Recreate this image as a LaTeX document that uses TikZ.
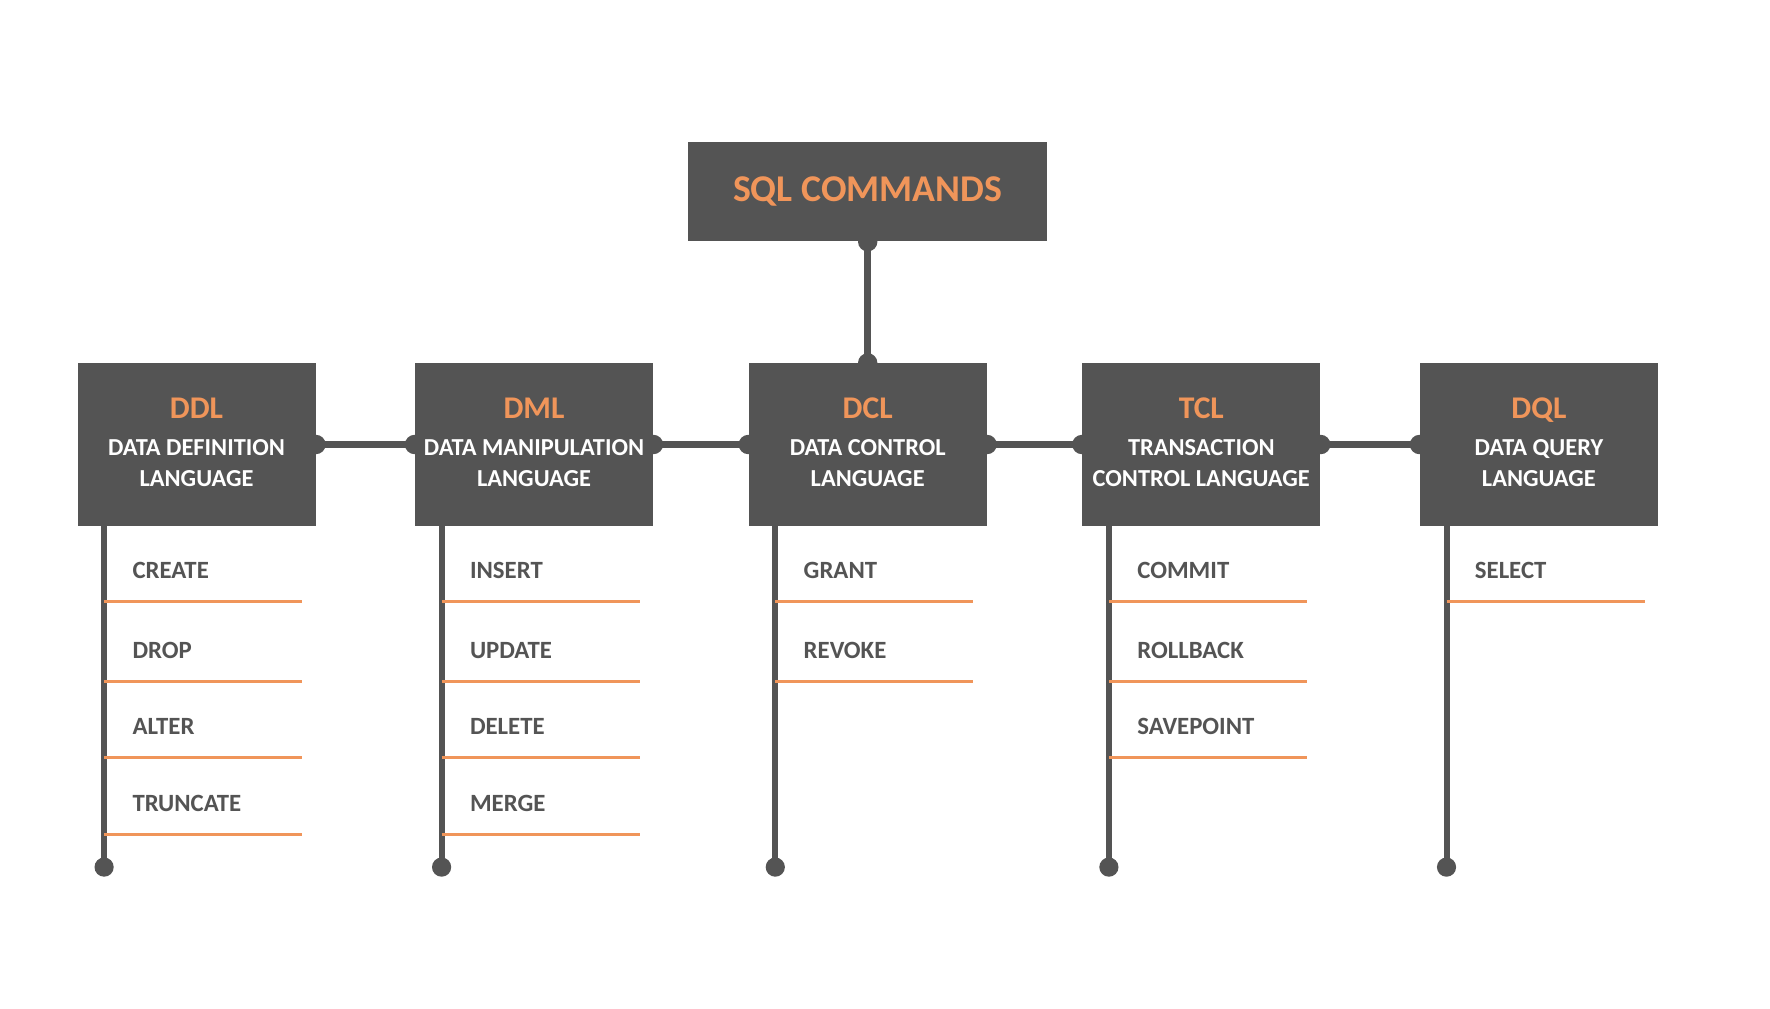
\documentclass[tikz,border=0pt]{standalone}
\usepackage{fontspec}
\setmainfont{Carlito}
\usetikzlibrary{positioning}
\definecolor{boxgray}{HTML}{545454}
\definecolor{cmdorange}{HTML}{F0955A}

\begin{document}
\begin{tikzpicture}[x=0.5pt,y=-0.5pt]
\tikzstyle{every node}+=[inner sep=0pt]
\tikzstyle{langbox}=[fill=boxgray, minimum width=119pt, minimum height=81.2pt]
\tikzstyle{abbr}=[anchor=base, text=cmdorange, font=\bfseries\fontsize{15.8}{18}\selectfont]
\tikzstyle{fullname}=[anchor=base, text=white, font=\bfseries\fontsize{12.2}{14}\selectfont]
\tikzstyle{cmd}=[anchor=base west, text=boxgray, font=\bfseries\fontsize{12.4}{14}\selectfont]
\tikzstyle{link}=[boxgray, line width=3.75pt]
\tikzstyle{stem}=[boxgray, line width=3pt]
\tikzstyle{rule}=[cmdorange, line width=1.5pt]
\useasboundingbox (0,0) rectangle (1770,1008);
\fill[white] (0,0) rectangle (1770,1008);

% top box
\node[fill=boxgray, minimum width=179.65pt, minimum height=49.5pt] (sql) at (867.7,191.8) {};
\node[anchor=base, text=cmdorange, font=\bfseries\fontsize{18.9}{22}\selectfont] (sqltext) at (867.7,201) {SQL COMMANDS};

% language boxes with their stems
\foreach \n/\cx/\ab/\la/\lb in {ddl/196.5/DDL/DATA DEFINITION/LANGUAGE,
    dml/534/DML/DATA MANIPULATION/LANGUAGE,
    dcl/867.7/DCL/DATA CONTROL/LANGUAGE,
    tcl/1201.3/TCL/TRANSACTION/CONTROL LANGUAGE,
    dql/1538.9/DQL/DATA QUERY/LANGUAGE}{
  \node[langbox] (\n) at (\cx,444.5) {};
  \node[abbr] (\n-abbr) at (\cx,418.3) {\ab};
  \node[fullname] (\n-la) at (\cx,455) {\la};
  \node[fullname] (\n-lb) at (\cx,486.7) {\lb};
  \coordinate (\n-top) at ([xshift=13.5pt]\n.south west);
  \draw[stem] (\n-top) -- ++(0,341) coordinate (\n-end);
  \fill[boxgray] (\n-end) circle[radius=4.8pt];
}

% connectors
\draw[link] (sql.south) -- (dcl.north);
\foreach \a/\b in {ddl/dml,dml/dcl,dcl/tcl,tcl/dql}
  \draw[link] (\a.east) -- (\b.west);
\foreach \p in {sql.south,dcl.north,ddl.east,dml.west,dml.east,dcl.west,dcl.east,tcl.west,tcl.east,dql.west}
  \fill[boxgray] (\p) circle[radius=4.85pt];

% commands
\foreach \y/\c in {601/CREATE,681/DROP,757/ALTER,834/TRUNCATE}{
  \draw[rule] (ddl-top |- 0,\y) -- ++(198,0);
  \node[cmd] at ([xshift=14pt,yshift=11.5pt]ddl-top |- 0,\y) {\c};
}
\foreach \y/\c in {601/INSERT,681/UPDATE,757/DELETE,834/MERGE}{
  \draw[rule] (dml-top |- 0,\y) -- ++(198,0);
  \node[cmd] at ([xshift=14pt,yshift=11.5pt]dml-top |- 0,\y) {\c};
}
\foreach \y/\c in {601/GRANT,681/REVOKE}{
  \draw[rule] (dcl-top |- 0,\y) -- ++(198,0);
  \node[cmd] at ([xshift=14pt,yshift=11.5pt]dcl-top |- 0,\y) {\c};
}
\foreach \y/\c in {601/COMMIT,681/ROLLBACK,757/SAVEPOINT}{
  \draw[rule] (tcl-top |- 0,\y) -- ++(198,0);
  \node[cmd] at ([xshift=14pt,yshift=11.5pt]tcl-top |- 0,\y) {\c};
}
\foreach \y/\c in {601/SELECT}{
  \draw[rule] (dql-top |- 0,\y) -- ++(198,0);
  \node[cmd] at ([xshift=14pt,yshift=11.5pt]dql-top |- 0,\y) {\c};
}
\end{tikzpicture}
\end{document}
